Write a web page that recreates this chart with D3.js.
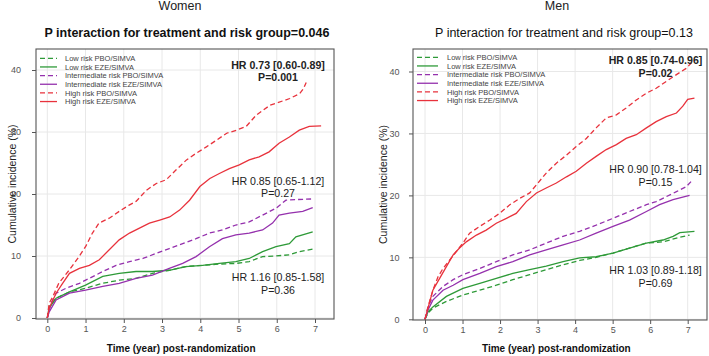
<!DOCTYPE html>
<html>
<head>
<meta charset="utf-8">
<script src="https://cdn.jsdelivr.net/npm/d3@7"></script>
<style>
  body { margin: 0; background: #fff; }
  svg { font-family: "Liberation Sans", Arial, sans-serif; }
</style>
</head>
<body>
<svg id="chart" width="709" height="356"></svg>
<script>
// Axis ticks
const timeTicks = [0, 1, 2, 3, 4, 5, 6, 7];
const incidenceTicks = [0, 10, 20, 30, 40];

const legendLabels = [
    "Low risk PBO/SIMVA",
    "Low risk EZE/SIMVA",
    "Intermediate risk PBO/SIMVA",
    "Intermediate risk EZE/SIMVA",
    "High risk PBO/SIMVA",
    "High risk EZE/SIMVA"
];

// ---- Women: [year, cumulative incidence %] ----
const womenLowPbo = [[0,0],[0.05,1.8],[0.23,3.2],[0.58,4.2],[1.0,4.8],[1.45,5.6],[1.88,6.1],[2.32,6.4],[2.75,7.2],[3.19,7.7],[3.62,8.3],[4.06,8.5],[4.5,8.7],[4.93,8.8],[5.28,9.1],[5.63,9.9],[5.98,10.0],[6.33,10.2],[6.59,10.7],[6.94,11.1]];
const womenLowEze = [[0,0],[0.05,1.6],[0.23,3.2],[0.58,4.2],[1.0,5.3],[1.45,6.7],[1.88,7.2],[2.32,7.5],[2.75,7.5],[3.19,7.7],[3.62,8.3],[4.06,8.5],[4.5,8.8],[4.93,9.1],[5.28,9.6],[5.63,10.7],[5.98,11.5],[6.33,12.0],[6.5,13.1],[6.94,13.9]];
const womenIntPbo = [[0,0],[0.1,2.4],[0.23,4.0],[0.49,4.8],[0.84,5.6],[1.1,6.4],[1.45,7.5],[1.8,8.5],[2.15,9.1],[2.5,9.6],[2.84,10.4],[3.19,11.2],[3.54,12.0],[3.89,12.8],[4.24,13.7],[4.58,14.2],[4.93,15.0],[5.28,15.5],[5.63,16.6],[5.98,17.7],[6.24,19.0],[6.5,19.1],[6.94,19.2]];
const womenIntEze = [[0,0],[0.05,1.0],[0.23,2.9],[0.58,4.0],[1.0,4.5],[1.45,5.1],[1.88,5.6],[2.32,6.4],[2.75,6.9],[3.19,8.0],[3.54,8.8],[3.89,9.9],[4.24,11.5],[4.58,12.8],[4.93,13.4],[5.28,13.7],[5.63,14.2],[5.89,15.3],[6.06,16.6],[6.33,16.9],[6.68,17.2],[6.94,17.8]];
const womenHighPbo = [[0,0],[0.05,2.4],[0.14,3.4],[0.3,5.6],[0.57,7.7],[0.83,9.9],[1.0,11.5],[1.18,13.7],[1.35,15.3],[1.62,16.1],[1.88,17.2],[2.14,18.2],[2.32,18.8],[2.59,20.6],[2.85,21.7],[3.11,22.3],[3.37,23.9],[3.64,25.5],[3.9,26.6],[4.16,27.6],[4.43,28.7],[4.69,29.8],[4.95,30.3],[5.2,30.9],[5.46,32.7],[5.82,34.3],[6.34,35.4],[6.6,36.2],[6.7,37.0],[6.77,38.0]];
const womenHighEze = [[0,0],[0.05,1.6],[0.23,4.0],[0.4,5.6],[0.58,7.2],[0.84,8.0],[1.1,8.5],[1.36,9.4],[1.62,11.0],[1.88,12.6],[2.15,13.7],[2.41,14.5],[2.67,15.3],[2.94,15.8],[3.2,16.3],[3.46,17.4],[3.72,19.0],[3.99,21.2],[4.25,22.5],[4.5,23.3],[4.76,24.1],[5.02,24.7],[5.28,25.5],[5.54,26.0],[5.8,26.8],[6.06,28.2],[6.33,29.2],[6.59,30.3],[6.85,30.9],[7.16,31.0]];

// ---- Men ----
const menLowPbo = [[0,0],[0.08,1.0],[0.21,1.8],[0.57,2.9],[1.01,3.9],[1.46,4.7],[1.9,5.5],[2.34,6.4],[2.79,7.2],[3.23,8.0],[3.68,8.8],[4.12,9.5],[4.56,10.0],[5.01,10.7],[5.45,11.5],[5.9,12.3],[6.34,12.5],[6.7,13.1],[7.05,13.6]];
const menLowEze = [[0,0],[0.08,1.2],[0.21,2.0],[0.57,3.7],[1.01,5.0],[1.46,5.8],[1.9,6.6],[2.34,7.4],[2.79,8.0],[3.23,8.6],[3.68,9.3],[4.12,9.9],[4.56,10.1],[5.01,10.7],[5.45,11.5],[5.9,12.3],[6.34,12.8],[6.61,13.4],[6.79,14.0],[7.18,14.2]];
const menIntPbo = [[0,0],[0.08,2.0],[0.21,3.7],[0.48,5.3],[0.75,6.4],[1.01,7.2],[1.46,8.2],[1.9,9.3],[2.34,10.4],[2.79,11.2],[3.23,12.3],[3.68,13.4],[4.12,14.2],[4.56,15.2],[5.01,16.3],[5.45,17.4],[5.9,18.5],[6.16,19.0],[6.43,19.8],[6.7,20.6],[6.96,21.4],[7.1,22.3]];
const menIntEze = [[0,0],[0.08,1.5],[0.21,3.1],[0.48,4.7],[0.75,5.5],[1.01,6.4],[1.46,7.4],[1.9,8.5],[2.34,9.3],[2.79,10.4],[3.23,11.2],[3.68,12.0],[4.12,12.8],[4.56,13.9],[5.01,15.0],[5.45,16.0],[5.9,17.4],[6.25,18.5],[6.61,19.3],[7.05,20.0]];
const menHighPbo = [[0,0],[0.08,2.0],[0.21,4.7],[0.35,6.9],[0.48,8.2],[0.66,9.6],[0.83,10.9],[1.01,12.3],[1.19,13.9],[1.46,15.0],[1.72,16.0],[1.99,17.1],[2.26,18.5],[2.52,19.5],[2.79,20.4],[3.01,22.0],[3.23,23.6],[3.5,25.2],[3.77,26.5],[4.03,27.9],[4.3,29.2],[4.56,30.9],[4.83,32.5],[5.1,33.0],[5.36,34.1],[5.63,35.4],[5.9,36.5],[6.16,37.3],[6.43,38.4],[6.7,39.5],[6.96,40.5],[7.1,41.4]];
const menHighEze = [[0,0],[0.08,1.8],[0.21,4.7],[0.39,6.6],[0.57,8.5],[0.75,10.4],[0.92,11.5],[1.1,12.5],[1.37,13.6],[1.63,14.4],[1.9,15.5],[2.17,16.3],[2.43,17.1],[2.7,19.0],[2.97,20.4],[3.23,21.2],[3.5,22.0],[3.77,23.0],[4.03,23.9],[4.3,25.2],[4.56,26.3],[4.83,27.4],[5.1,28.2],[5.36,29.2],[5.63,29.8],[5.9,30.9],[6.16,31.9],[6.43,32.7],[6.7,33.3],[6.87,34.4],[7.0,35.5],[7.18,35.7]];

const colors = { low: "#2e9a38", int: "#9531ad", high: "#e8323c" };

const svg = d3.select("#chart");

function drawPanel(p) {
    const x = d3.scaleLinear().domain([0, 7]).range(p.xRange);
    const y = d3.scaleLinear().domain([0, 40]).range(p.yRange);
    const g = svg.append("g");
    const [fx0, fy0, fx1, fy1] = p.frame;

    // grid
    g.selectAll(".vg").data(timeTicks).enter().append("line")
        .attr("x1", d => x(d)).attr("x2", d => x(d))
        .attr("y1", fy0).attr("y2", fy1)
        .attr("stroke", "#e8e8e8").attr("stroke-width", 1);
    g.selectAll(".hg").data(incidenceTicks).enter().append("line")
        .attr("x1", fx0).attr("x2", fx1)
        .attr("y1", d => y(d)).attr("y2", d => y(d))
        .attr("stroke", "#e8e8e8").attr("stroke-width", 1);

    // curves
    const line = d3.line()
        .x(d => x(d[0])).y(d => y(d[1]));
    p.series.forEach(s => {
        g.append("path")
            .attr("d", line(s.data))
            .attr("fill", "none")
            .attr("stroke", s.color)
            .attr("stroke-width", 1.3)
            .attr("stroke-dasharray", s.dashed ? "5,3" : null);
    });

    // frame
    g.append("rect")
        .attr("x", fx0).attr("y", fy0)
        .attr("width", fx1 - fx0).attr("height", fy1 - fy0)
        .attr("fill", "none").attr("stroke", "#555").attr("stroke-width", 1.1);

    // x axis ticks
    g.append("g")
        .attr("transform", `translate(0,${fy1})`)
        .call(d3.axisBottom(x).tickValues(timeTicks).tickSize(4).tickPadding(3).tickFormat(d3.format("d")))
        .call(a => a.select(".domain").remove())
        .call(a => a.selectAll("line").attr("stroke", "#555"))
        .call(a => a.selectAll("text").attr("fill", "#555").style("font-size", "9px")
            .style("font-family", "Liberation Sans, Arial, sans-serif"));

    // y axis ticks
    g.append("g")
        .attr("transform", `translate(${fx0},0)`)
        .call(d3.axisLeft(y).tickValues(incidenceTicks).tickSize(4).tickPadding(p.yPad))
        .call(a => a.select(".domain").remove())
        .call(a => a.selectAll("line").attr("stroke", "#555"))
        .call(a => a.selectAll("text").attr("fill", "#555").style("font-size", "9px")
            .style("font-family", "Liberation Sans, Arial, sans-serif"));

    // titles
    g.append("text").attr("x", p.titleX).attr("y", 10)
        .attr("text-anchor", "middle").attr("fill", "#222")
        .style("font-size", "12.5px").text(p.title);
    g.append("text").attr("x", p.subX).attr("y", 36.5)
        .attr("text-anchor", "middle").attr("fill", "#111")
        .style("font-size", "12.5px").style("font-weight", p.subBold ? "bold" : "normal")
        .text(p.subtitle);

    // axis titles
    g.append("text").attr("x", (x(0) + x(7)) / 2).attr("y", 352)
        .attr("text-anchor", "middle").attr("fill", "#111")
        .style("font-size", "10px").style("font-weight", "bold")
        .text("Time (year) post-randomization");
    g.append("text")
        .attr("transform", `translate(${p.yTitleX},${(fy0 + fy1) / 2}) rotate(-90)`)
        .attr("text-anchor", "middle").attr("fill", "#222")
        .style("font-size", "10.5px")
        .text("Cumulative incidence (%)");

    // legend
    p.series.forEach((s, i) => {
        const ly = p.legend.y + i * 8.65;
        g.append("line")
            .attr("x1", p.legend.x).attr("x2", p.legend.x + p.legend.len)
            .attr("y1", ly).attr("y2", ly)
            .attr("stroke", s.color).attr("stroke-width", 1.3)
            .attr("stroke-dasharray", s.dashed ? "5,3" : null);
        g.append("text")
            .attr("x", p.legend.textX).attr("y", ly + 2.6)
            .attr("fill", "#444").style("font-size", "7.5px")
            .text(legendLabels[i]);
    });

    // hazard ratio notes
    p.notes.forEach(n => {
        n.lines.forEach((txt, j) => {
            g.append("text")
                .attr("x", n.x).attr("y", n.y + j * 12.6)
                .attr("text-anchor", "middle").attr("fill", "#222")
                .style("font-size", "10.6px").style("font-weight", n.bold ? "bold" : "normal")
                .text(txt);
        });
    });
}

drawPanel({
    xRange: [47.3, 315], yRange: [318, 70], frame: [36, 49, 334, 319],
    yPad: 11, yTitleX: 15.7,
    title: "Women", titleX: 180,
    subtitle: "P interaction for treatment and risk group=0.046", subX: 187, subBold: true,
    legend: { x: 40, len: 17, textX: 65, y: 58.3 },
    series: [
        { data: womenLowPbo, color: colors.low, dashed: true },
        { data: womenLowEze, color: colors.low, dashed: false },
        { data: womenIntPbo, color: colors.int, dashed: true },
        { data: womenIntEze, color: colors.int, dashed: false },
        { data: womenHighPbo, color: colors.high, dashed: true },
        { data: womenHighEze, color: colors.high, dashed: false }
    ],
    notes: [
        { x: 278, y: 68.7, bold: true, lines: ["HR 0.73 [0.60-0.89]", "P=0.001"] },
        { x: 278, y: 184.5, bold: false, lines: ["HR 0.85 [0.65-1.12]", "P=0.27"] },
        { x: 278, y: 281.3, bold: false, lines: ["HR 1.16 [0.85-1.58]", "P=0.36"] }
    ]
});

drawPanel({
    xRange: [425, 687.7], yRange: [319.3, 71.5], frame: [413, 49, 707, 320],
    yPad: 9.5, yTitleX: 386.7,
    title: "Men", titleX: 557,
    subtitle: "P interaction for treatment and risk group=0.13", subX: 564, subBold: false,
    legend: { x: 417, len: 21, textX: 447, y: 57.3 },
    series: [
        { data: menLowPbo, color: colors.low, dashed: true },
        { data: menLowEze, color: colors.low, dashed: false },
        { data: menIntPbo, color: colors.int, dashed: true },
        { data: menIntEze, color: colors.int, dashed: false },
        { data: menHighPbo, color: colors.high, dashed: true },
        { data: menHighEze, color: colors.high, dashed: false }
    ],
    notes: [
        { x: 655.5, y: 64.3, bold: true, lines: ["HR 0.85 [0.74-0.96]", "P=0.02"] },
        { x: 655.5, y: 173, bold: false, lines: ["HR 0.90 [0.78-1.04]", "P=0.15"] },
        { x: 655.5, y: 274, bold: false, lines: ["HR 1.03 [0.89-1.18]", "P=0.69"] }
    ]
});
</script>
</body>
</html>
